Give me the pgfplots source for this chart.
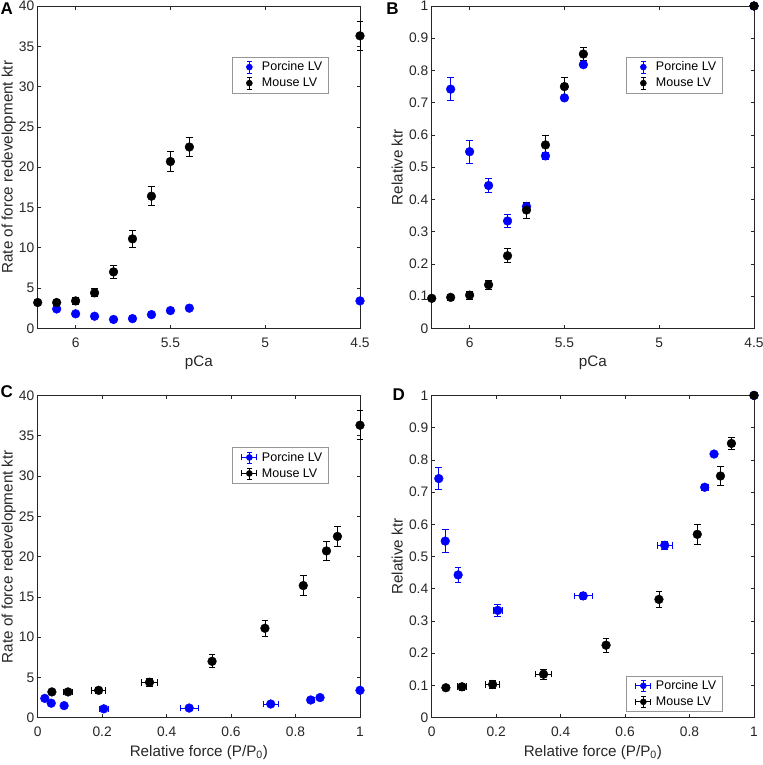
\documentclass[border=0pt]{standalone}
\usepackage{pgfplots}
\pgfplotsset{compat=1.18}
\usepackage{pgfplotstable}
\usepackage{fontspec}
\setmainfont{Liberation Sans}
\definecolor{axgray}{RGB}{38,38,38}
\definecolor{mblue}{RGB}{0,0,255}
\definecolor{leggray}{RGB}{150,150,150}

% porcine LV: pCa, relative force f (+-ef), ktr k (+-ek), relative ktr r (+-er)
\pgfplotstableread{
p   f     ef    k    ek    r     er
6.1 0.022 0.004 2.4  0.15  0.742 0.035
6.0 0.042 0.004 1.8  0.10  0.548 0.035
5.9 0.082 0.005 1.5  0.10  0.443 0.022
5.8 0.205 0.015 1.1  0.10  0.333 0.020
5.7 0.470 0.028 1.2  0.10  0.378 0.012
5.6 0.723 0.024 1.7  0.10  0.535 0.012
5.5 0.847 0.010 2.2  0.10  0.715 0.008
5.4 0.876 0.005 2.5  0.10  0.818 0.008
4.5 1.000 0.000 3.4  0.15  1.000 0.000
}\porc

% mouse LV
\pgfplotstableread{
p   f     ef    k    ek    r     er
6.2 0.044 0.003 3.2  0.20  0.093 0.000
6.1 0.094 0.013 3.2  0.30  0.096 0.010
6.0 0.189 0.022 3.4  0.40  0.103 0.012
5.9 0.347 0.025 4.4  0.50  0.135 0.015
5.8 0.541 0.006 7.0  0.80  0.225 0.022
5.7 0.705 0.006 11.1 1.00  0.367 0.025
5.6 0.824 0.006 16.4 1.20  0.569 0.030
5.5 0.896 0.006 20.7 1.20  0.750 0.030
5.4 0.930 0.006 22.5 1.20  0.851 0.020
4.5 1.000 0.000 36.3 1.80  1.000 0.000
}\mouse

\pgfplotsset{
  panel/.style={
    scale only axis, width=322.3bp, height=322.3bp,
    axis line style={axgray, line width=0.6bp},
    tick style={axgray, line width=0.6bp},
    tick align=inside, tick pos=both, major tick length=3.5bp,
    ticklabel style={font=\fontsize{13.8bp}{15bp}\selectfont, text=axgray},
    xticklabel style={yshift=-6bp},
    label style={font=\fontsize{15.2bp}{17bp}\selectfont, text=axgray},
    /pgf/number format/assume math mode=true,
    clip=false,
    legend cell align=left,
    legend style={font=\fontsize{12.5bp}{14bp}\selectfont, text=black,
      draw=leggray, line width=0.5bp, inner xsep=4bp, inner ysep=3bp,
      row sep=2.5bp, nodes={inner sep=1.6bp}},
  },
  ptsP/.style={only marks, mark=*, mark size=4.4bp, color=mblue,
    mark options={draw=mblue, fill=mblue},
    error bars/error bar style={mblue, line width=0.8bp},
    error bars/error mark options={rotate=90, mblue, mark size=3.3bp, line width=0.8bp}},
  ptsM/.style={only marks, mark=*, mark size=4.4bp, color=black,
    mark options={draw=black, fill=black},
    error bars/error bar style={black, line width=0.8bp},
    error bars/error mark options={rotate=90, black, mark size=3.3bp, line width=0.8bp}},
  legV/.style={legend image code/.code={
    \draw[#1, line width=0.8bp] (13bp,-6bp) -- (13bp,6bp)
      (10.5bp,-6bp) -- (15.5bp,-6bp) (10.5bp,6bp) -- (15.5bp,6bp);
    \fill[#1] (13bp,0) circle (3bp);
    \path[draw=none, fill=none] (0bp,-0.5bp) rectangle (24bp,0.5bp);}},
  legVH/.style={legend image code/.code={
    \draw[#1, line width=0.8bp] (13bp,-5.5bp) -- (13bp,5.5bp)
      (10.5bp,-5.5bp) -- (15.5bp,-5.5bp) (10.5bp,5.5bp) -- (15.5bp,5.5bp)
      (5.5bp,0) -- (20.5bp,0) (5.5bp,-3bp) -- (5.5bp,3bp) (20.5bp,-3bp) -- (20.5bp,3bp);
    \fill[#1] (13bp,0) circle (3bp);
    \path[draw=none, fill=none] (0bp,-0.5bp) rectangle (24bp,0.5bp);}},
  pcax/.style={x coord trafo/.code={\pgfmathparse{-(##1)}},
    xmin=6.2, xmax=4.5, xtick={6,5.5,5,4.5},
    xticklabels={6,5.5,5,4.5}, xlabel={pCa},
    xlabel style={at={(axis description cs:0.5,-0.118)}, anchor=base}},
  fax/.style={xmin=0, xmax=1, xtick={0,0.2,0.4,0.6,0.8,1},
    xticklabels={0,0.2,0.4,0.6,0.8,1}, xlabel={Relative force (P/P\textsubscript{0})},
    xlabel style={at={(axis description cs:0.5,-0.119)}, anchor=base}},
  kax/.style={ymin=0, ymax=40, ytick={0,5,...,40},
    ylabel={Rate of force redevelopment ktr},
    ylabel style={at={(axis description cs:-0.0778,0.5)}, rotate=0, anchor=base}},
  rax/.style={ymin=0, ymax=1, ytick={0,0.1,0.2,0.3,0.4,0.5,0.6,0.7,0.8,0.9,1},
    yticklabels={0,0.1,0.2,0.3,0.4,0.5,0.6,0.7,0.8,0.9,1},
    ylabel={Relative ktr},
    ylabel style={at={(axis description cs:-0.090,0.5)}, rotate=0, anchor=base}},
}

\begin{document}
\begin{tikzpicture}
\useasboundingbox (0,0) rectangle (763bp,-765bp);

% Panel A
\begin{axis}[panel, pcax, kax, at={(37.7bp,-328.3bp)}, anchor=south west,
  legend style={at={(0.9008,0.8418)}, anchor=north east}]
\addplot[ptsP, legV=mblue, error bars/.cd, y dir=both, y explicit]
  table[x=p, y=k, y error=ek] {\porc};
\addplot[ptsM, legV=black, error bars/.cd, y dir=both, y explicit]
  table[x=p, y=k, y error=ek] {\mouse};
\legend{Porcine LV, Mouse LV}
\end{axis}

% Panel B
\begin{axis}[panel, pcax, rax, at={(431.7bp,-328.3bp)}, anchor=south west,
  legend style={at={(0.9008,0.8418)}, anchor=north east}]
\addplot[ptsP, legV=mblue, error bars/.cd, y dir=both, y explicit]
  table[x=p, y=r, y error=er] {\porc};
\addplot[ptsM, legV=black, error bars/.cd, y dir=both, y explicit]
  table[x=p, y=r, y error=er] {\mouse};
\legend{Porcine LV, Mouse LV}
\end{axis}

% Panel C
\begin{axis}[panel, fax, kax, at={(37.7bp,-717.7bp)}, anchor=south west,
  legend style={at={(0.9008,0.839)}, anchor=north east}]
\addplot[ptsP, legVH=mblue, error bars/.cd, x dir=both, x explicit, y dir=both, y explicit]
  table[x=f, y=k, x error=ef, y error=ek] {\porc};
\addplot[ptsM, legVH=black, error bars/.cd, x dir=both, x explicit, y dir=both, y explicit]
  table[x=f, y=k, x error=ef, y error=ek] {\mouse};
\legend{Porcine LV, Mouse LV}
\end{axis}

% Panel D
\begin{axis}[panel, fax, rax, at={(431.7bp,-717.7bp)}, anchor=south west,
  legend style={at={(0.9008,0.0186)}, anchor=south east}]
\addplot[ptsP, legVH=mblue, error bars/.cd, x dir=both, x explicit, y dir=both, y explicit]
  table[x=f, y=r, x error=ef, y error=er] {\porc};
\addplot[ptsM, legVH=black, error bars/.cd, x dir=both, x explicit, y dir=both, y explicit]
  table[x=f, y=r, x error=ef, y error=er] {\mouse};
\legend{Porcine LV, Mouse LV}
\end{axis}

\node[anchor=base west, inner sep=0, font=\fontsize{17bp}{18bp}\selectfont\bfseries] at (0.5bp,-14.5bp) {A};
\node[anchor=base west, inner sep=0, font=\fontsize{17bp}{18bp}\selectfont\bfseries] at (386.2bp,-14.8bp) {B};
\node[anchor=base west, inner sep=0, font=\fontsize{17bp}{18bp}\selectfont\bfseries] at (0.5bp,-397.8bp) {C};
\node[anchor=base west, inner sep=0, font=\fontsize{17bp}{18bp}\selectfont\bfseries] at (392.5bp,-400bp) {D};
\end{tikzpicture}
\end{document}
